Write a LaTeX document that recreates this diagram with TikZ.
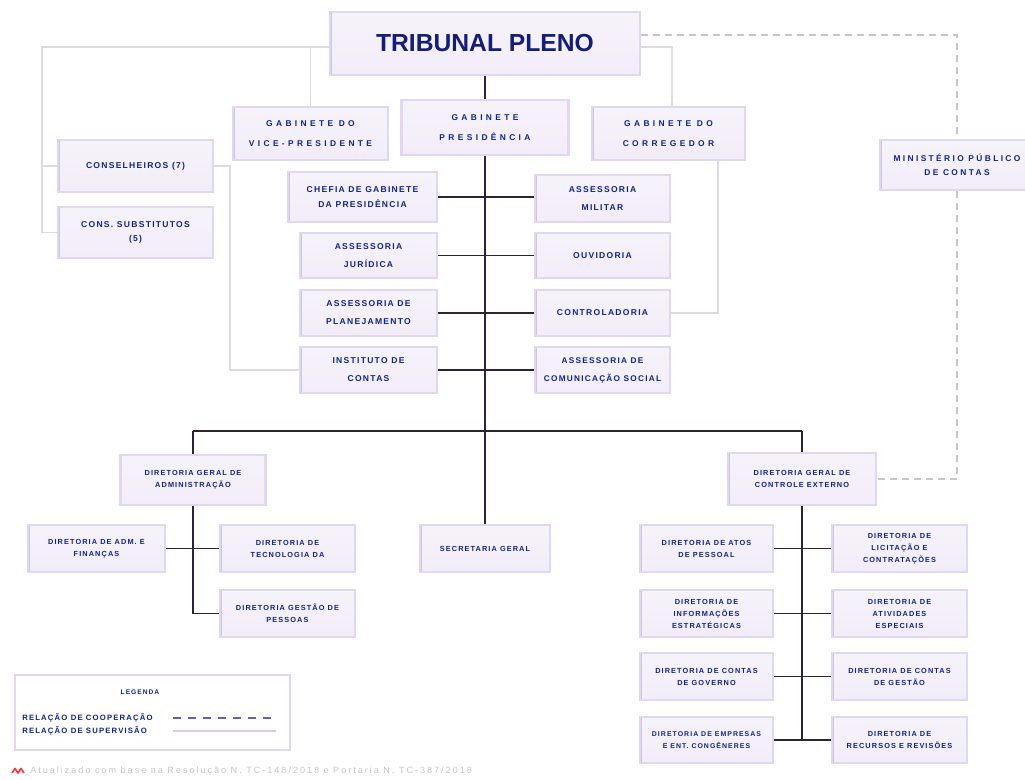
\documentclass[tikz,border=0pt]{standalone}
\usepackage{fontspec}
\setmainfont{Liberation Sans}
\newfontfamily\fA{Liberation Sans}[LetterSpace=15]
\newfontfamily\fM{Liberation Sans}[LetterSpace=28]
\newfontfamily\fW{Liberation Sans}[LetterSpace=40]
\newfontfamily\fF{Liberation Sans}[LetterSpace=22]
\definecolor{navy}{RGB}{15,35,150}
\definecolor{navyd}{RGB}{20,30,120}
\definecolor{lav}{RGB}{226,214,240}
\definecolor{lavg}{RGB}{205,198,218}
\definecolor{connc}{RGB}{45,35,55}
\definecolor{supc}{RGB}{222,218,228}
\definecolor{coopc}{RGB}{200,196,210}
\tikzset{
  box/.style={draw=lav, line width=2pt, top color=lav!30, middle color=white, bottom color=lav!45,
    inner sep=0pt, align=center, text=navy,
    font=\fA\bfseries\fontsize{6.4}{11}\selectfont,
    path picture={\draw[lavg, line width=2.5pt] (path picture bounding box.north west) -- (path picture bounding box.south west);
                  \draw[lavg!80, line width=2pt] (path picture bounding box.north west) -- (path picture bounding box.north east);}},
  wh/.style 2 args={minimum width=#1*0.75pt, minimum height=#2*0.75pt},
  gabtxt/.style={font=\fW\bfseries\fontsize{6.3}{15.5}\selectfont},
  medtxt/.style={font=\fM\bfseries\fontsize{6.3}{10.5}\selectfont},
  smalltxt/.style={font=\fA\bfseries\fontsize{5.5}{9}\selectfont},
  twoline/.style={font=\fA\bfseries\fontsize{6.4}{13.5}\selectfont},
  conn/.style={draw=connc, line width=1.4pt},
  sup/.style={draw=supc, line width=0.9pt},
  coop/.style={draw=coopc, line width=0.9pt, dash pattern=on 5pt off 4pt},
}
\begin{document}
\begin{tikzpicture}[x=0.75pt,y=-0.75pt]
\useasboundingbox[fill=white] (0,0) rectangle (1025,779);

% --- top level
\node[box,wh={310}{63},font=\bfseries\fontsize{18.5}{20}\selectfont,text=navyd] (tp) at (485,43.5) {TRIBUNAL PLENO};
\node[box,gabtxt,wh={155}{53}] (gvp) at (310.5,133.5) {GABINETE DO\\VICE-PRESIDENTE};
\node[box,gabtxt,wh={167}{55}] (gp) at (485,127.5) {GABINETE\\PRESIDÊNCIA};
\node[box,gabtxt,wh={153}{53}] (gc) at (668.5,133.5) {GABINETE DO\\CORREGEDOR};
\node[box,medtxt,wh={154}{50}] (mpc) at (957,165) {MINISTÉRIO PÚBLICO\\DE CONTAS};
\node[box,wh={155}{52}] (con) at (135.5,166) {CONSELHEIROS (7)};
\node[box,wh={155}{51}] (cs) at (135.5,232.5) {CONS. SUBSTITUTOS\\(5)};

% --- assessorias
\node[box,wh={149}{50}] (chefia) at (362.5,197) {CHEFIA DE GABINETE\\DA PRESIDÊNCIA};
\node[box,twoline,wh={135}{47}] (amil) at (602.5,198.5) {ASSESSORIA\\MILITAR};
\node[box,twoline,wh={137}{45}] (ajur) at (368.5,255.5) {ASSESSORIA\\JURÍDICA};
\node[box,wh={135}{45}] (ouv) at (602.5,255.5) {OUVIDORIA};
\node[box,twoline,wh={137}{46}] (aplan) at (368.5,313) {ASSESSORIA DE\\PLANEJAMENTO};
\node[box,wh={135}{46}] (contr) at (602.5,313) {CONTROLADORIA};
\node[box,twoline,wh={137}{46}] (inst) at (368.5,370) {INSTITUTO DE\\CONTAS};
\node[box,wh={135}{46},font=\fA\bfseries\fontsize{6.2}{13.5}\selectfont] (acom) at (602.5,370) {ASSESSORIA DE\\COMUNICAÇÃO SOCIAL};

% --- diretorias gerais
\node[box,smalltxt,wh={145}{50}] (dga) at (193,480) {DIRETORIA GERAL DE\\ADMINISTRAÇÃO};
\node[box,smalltxt,wh={137}{47}] (daf) at (96.5,548.5) {DIRETORIA DE ADM. E\\FINANÇAS};
\node[box,smalltxt,wh={135}{47}] (dti) at (287.5,548.5) {DIRETORIA DE\\TECNOLOGIA DA};
\node[box,smalltxt,wh={135}{47}] (dgp) at (287.5,613.5) {DIRETORIA GESTÃO DE\\PESSOAS};
\node[box,smalltxt,wh={130}{47}] (sg) at (485,548.5) {SECRETARIA GERAL};
\node[box,smalltxt,wh={148}{52}] (dgce) at (802,479) {DIRETORIA GERAL DE\\CONTROLE EXTERNO};

\node[box,smalltxt,wh={133}{47}] (r1l) at (706.5,548.5) {DIRETORIA DE ATOS\\DE PESSOAL};
\node[box,smalltxt,wh={135}{47}] (r1r) at (899.5,548.5) {DIRETORIA DE\\LICITAÇÃO E\\CONTRATAÇÕES};
\node[box,smalltxt,wh={133}{47}] (r2l) at (706.5,613.5) {DIRETORIA DE\\INFORMAÇÕES\\ESTRATÉGICAS};
\node[box,smalltxt,wh={135}{47}] (r2r) at (899.5,613.5) {DIRETORIA DE\\ATIVIDADES\\ESPECIAIS};
\node[box,smalltxt,wh={133}{47}] (r3l) at (706.5,676.5) {DIRETORIA DE CONTAS\\DE GOVERNO};
\node[box,smalltxt,wh={135}{47}] (r3r) at (899.5,676.5) {DIRETORIA DE CONTAS\\DE GESTÃO};
\node[box,smalltxt,wh={133}{46},font=\fA\bfseries\fontsize{5.2}{9}\selectfont] (r4l) at (706.5,740) {DIRETORIA DE EMPRESAS\\E ENT. CONGÊNERES};
\node[box,smalltxt,wh={135}{46}] (r4r) at (899.5,740) {DIRETORIA DE\\RECURSOS E REVISÕES};

% --- hierarchy connectors
\coordinate (bar) at (485,431);
\coordinate (barL) at (193,431);
\coordinate (barR) at (802,431);
\draw[conn] (tp.south) -- (gp.north);
\draw[conn] (gp.south) -- (bar);
\draw[conn] (chefia.east) -- (chefia.east -| amil.west);
\draw[conn] (ajur.east) -- (ouv.west);
\draw[conn] (aplan.east) -- (contr.west);
\draw[conn] (inst.east) -- (acom.west);
\draw[conn] (barL) -- (barR);
\draw[conn] (barL) -- (dga.north);
\draw[conn] (bar) -- (sg.north);
\draw[conn] (barR) -- (dgce.north);
\draw[conn] (dga.south) |- (dgp.west);
\draw[conn] (daf.east) -- (dti.west);
\draw[conn] (dgce.south) -- (dgce.south |- r4l.east);
\draw[conn] (r1l.east) -- (r1r.west);
\draw[conn] (r2l.east) -- (r2r.west);
\draw[conn] (r3l.east) -- (r3r.west);
\draw[conn] (r4l.east) -- (r4r.west);

% --- supervision lines
\coordinate (y47) at (0,47);
\coordinate (xL) at (42,0);
\coordinate (xC) at (230,0);
\coordinate (xR) at (672,0);
\coordinate (xG) at (718,0);
\draw[sup] (tp.west |- y47) -- (xL |- y47) -- (xL |- cs.west) -- (cs.west);
\draw[sup] (xL |- con.west) -- (con.west);
\draw[sup] (gvp.north |- y47) -- (gvp.north);
\draw[sup] (con.east) -- (xC |- con.east) -- (xC |- inst.west) -- (inst.west);
\draw[sup] (tp.east |- y47) -- (xR |- y47) -- (xR |- gc.north);
\draw[sup] (xG |- gc.south) -- (xG |- contr.east) -- (contr.east);

% --- cooperation lines
\coordinate (y35) at (0,35);
\draw[coop] (tp.east |- y35) -- (mpc.north |- y35) -- (mpc.north);
\draw[coop] (mpc.south) |- (dgce.east);

% --- legend
\node[draw=lav, line width=1.8pt, fill=white, wh={275}{75}] (leg) at (152.5,712.5) {};
\node[text=navy, font=\fA\bfseries\fontsize{5}{6}\selectfont] (legt) at (140,692) {LEGENDA};
\node[anchor=west, inner sep=0pt, text=navy, font=\fA\bfseries\fontsize{5.8}{6}\selectfont] (lc) at (22,718) {RELAÇÃO DE COOPERAÇÃO};
\node[anchor=west, inner sep=0pt, text=navy, font=\fA\bfseries\fontsize{5.8}{6}\selectfont] (ls) at (22,731) {RELAÇÃO DE SUPERVISÃO};
\coordinate (lc1) at (173,718);
\coordinate (lc2) at (276,718);
\coordinate (ls1) at (173,731);
\coordinate (ls2) at (276,731);
\draw[draw=navy!70, line width=0.9pt, dash pattern=on 6pt off 5.3pt] (lc1) -- (lc2);
\draw[draw=lav!90!gray, line width=0.9pt] (ls1) -- (ls2);

% --- footer
\draw[red!80, line width=1.2pt, line join=round] (12,773) -- (15,768.5) -- (18,773) -- (21,768.5) -- (24,773);
\node[anchor=west, inner sep=0pt, text=gray!45, font=\fF\fontsize{6.8}{8}\selectfont] (foot) at (30,771) {Atualizado com base na Resolução N. TC-148/2018 e Portaria N. TC-387/2018};
\end{tikzpicture}
\end{document}
